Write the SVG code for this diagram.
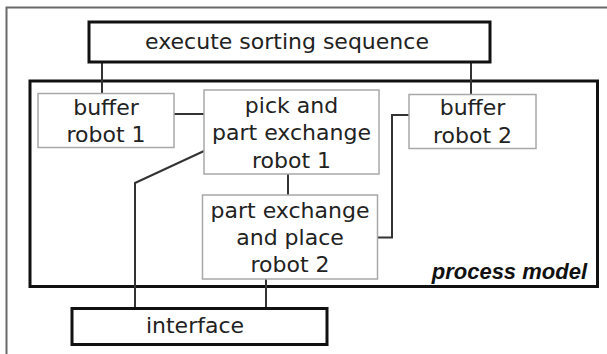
<svg xmlns="http://www.w3.org/2000/svg" width="607" height="354" viewBox="0 0 607 354">
<style>
.frame{fill:none;stroke:#6a6a6a;stroke-width:2}
.thick{fill:#fff;stroke:#111;stroke-width:3}
.pm{fill:none;stroke:#111;stroke-width:3}
.node{fill:#fff;stroke:#a8a8a8;stroke-width:1.5}
.conn{fill:none;stroke:#333;stroke-width:2}
.t{font-family:"DejaVu Sans",sans-serif;font-size:22px;fill:#222;text-anchor:middle}
.pmt{font-family:"Liberation Sans",Arial,sans-serif;font-size:22px;font-weight:bold;font-style:italic;fill:#111;text-anchor:end}
</style>
<rect x="0" y="0" width="607" height="354" fill="#fff"/>
<path class="frame" d="M6.5,354 V7.5 H607"/>
<g id="process-model">
<rect class="pm" x="30" y="81" width="567.5" height="205.5"/>
<text class="pmt" x="587" y="279">process model</text>
</g>
<g id="connectors">
<path class="conn" d="M102,62 V93"/>
<path class="conn" d="M471,62 V94.5"/>
<path class="conn" d="M174,114 H204"/>
<path class="conn" d="M288,174 V195"/>
<path class="conn" d="M409,115 H392 V237.5 H377"/>
<path class="conn" d="M204,151 L135,183 V308"/>
<path class="conn" d="M266,279 V308"/>
</g>
<g id="execute">
<rect class="thick" x="89" y="22" width="401" height="40"/>
<text class="t" x="287" y="49">execute sorting sequence</text>
</g>
<g id="buffer1">
<rect class="node" x="38" y="93.5" width="136" height="54"/>
<text class="t" x="106" y="114.5">buffer</text>
<text class="t" x="106" y="142">robot 1</text>
</g>
<g id="pick">
<rect class="node" x="204" y="90" width="175" height="84"/>
<text class="t" x="291.5" y="112.5">pick and</text>
<text class="t" x="291.5" y="140">part exchange</text>
<text class="t" x="291.5" y="167.5">robot 1</text>
</g>
<g id="buffer2">
<rect class="node" x="409" y="94.5" width="127" height="54"/>
<text class="t" x="472.5" y="114.5">buffer</text>
<text class="t" x="472.5" y="142.5">robot 2</text>
</g>
<g id="partexch">
<rect class="node" x="202.5" y="195" width="175" height="84"/>
<text class="t" x="290" y="218">part exchange</text>
<text class="t" x="290" y="245">and place</text>
<text class="t" x="290" y="272">robot 2</text>
</g>
<g id="interface">
<rect class="thick" x="72" y="308.5" width="255" height="36"/>
<text class="t" x="195" y="333">interface</text>
</g>
</svg>
